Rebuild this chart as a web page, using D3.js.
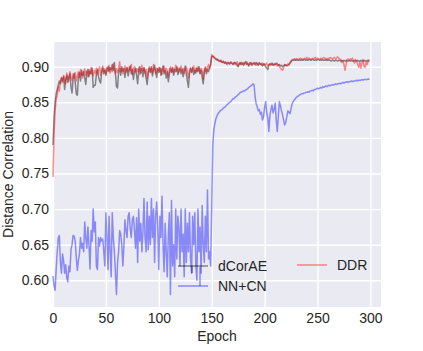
<!DOCTYPE html>
<html>
<head>
<meta charset="utf-8">
<script src="https://cdn.jsdelivr.net/npm/d3@7"></script>
<style>
  body { margin: 0; background: #fff; }
  text { font-family: "Liberation Sans", Arial, sans-serif; fill: #262626; }
</style>
</head>
<body>
<div id="chart"></div>
<script>
// Size of the picture
var width = 423;
var height = 351;

// x ticks and y ticks
var xTicks = [0, 50, 100, 150, 200, 250, 300];
var yTicks = [0.60, 0.65, 0.70, 0.75, 0.80, 0.85, 0.90];

// dCorAE (black)
var dcorae = [
  0.790, 0.830, 0.850, 0.862, 0.868, 0.874, 0.880, 0.876, 0.884, 0.880,
  0.886, 0.868, 0.882, 0.888, 0.878, 0.886, 0.890, 0.872, 0.863, 0.884,
  0.890, 0.878, 0.862, 0.860, 0.885, 0.892, 0.880, 0.895, 0.888, 0.893,
  0.884, 0.875, 0.892, 0.896, 0.886, 0.894, 0.890, 0.898, 0.871, 0.874,
  0.874, 0.890, 0.896, 0.886, 0.880, 0.877, 0.892, 0.898, 0.890, 0.895,
  0.888, 0.896, 0.900, 0.893, 0.899, 0.896, 0.903, 0.895, 0.906, 0.890,
  0.872, 0.870, 0.893, 0.898, 0.888, 0.900, 0.894, 0.897, 0.885, 0.896,
  0.899, 0.887, 0.895, 0.901, 0.890, 0.896, 0.882, 0.893, 0.898, 0.888,
  0.876, 0.894, 0.900, 0.891, 0.897, 0.886, 0.899, 0.893, 0.884, 0.875,
  0.890, 0.898, 0.892, 0.900, 0.887, 0.896, 0.902, 0.893, 0.885, 0.897,
  0.892, 0.899, 0.888, 0.896, 0.901, 0.890, 0.895, 0.884, 0.893, 0.879,
  0.890, 0.897, 0.892, 0.899, 0.888, 0.896, 0.893, 0.900, 0.889, 0.895,
  0.898, 0.890, 0.896, 0.886, 0.894, 0.901, 0.890, 0.880, 0.871, 0.890,
  0.897, 0.892, 0.899, 0.889, 0.895, 0.891, 0.898, 0.893, 0.900, 0.890,
  0.895, 0.885, 0.876, 0.893, 0.898, 0.890, 0.896, 0.893, 0.899, 0.902,
  0.914, 0.915, 0.913, 0.912, 0.910, 0.911, 0.909, 0.908, 0.909, 0.907,
  0.906, 0.907, 0.905, 0.906, 0.904, 0.906, 0.905, 0.904, 0.906, 0.905,
  0.903, 0.905, 0.906, 0.904, 0.902, 0.900, 0.904, 0.906, 0.903, 0.905,
  0.902, 0.905, 0.907, 0.903, 0.905, 0.901, 0.904, 0.906, 0.902, 0.904,
  0.905, 0.903, 0.906, 0.904, 0.902, 0.905, 0.903, 0.904, 0.901, 0.904,
  0.903, 0.900, 0.898, 0.896, 0.902, 0.904, 0.903, 0.905, 0.902, 0.904,
  0.903, 0.905, 0.904, 0.902, 0.903, 0.901, 0.902, 0.900, 0.901, 0.903,
  0.902, 0.901, 0.902, 0.903, 0.905, 0.907, 0.909, 0.909, 0.910, 0.909,
  0.910, 0.909, 0.909, 0.910, 0.909, 0.910, 0.909, 0.910, 0.910, 0.909,
  0.910, 0.909, 0.910, 0.910, 0.909, 0.910, 0.910, 0.909, 0.910, 0.909,
  0.910, 0.910, 0.909, 0.910, 0.909, 0.910, 0.909, 0.909, 0.910, 0.909,
  0.910, 0.909, 0.909, 0.908, 0.909, 0.909, 0.908, 0.909, 0.909, 0.908,
  0.909, 0.909, 0.908, 0.909, 0.908, 0.909, 0.908, 0.909, 0.908, 0.908,
  0.909, 0.908, 0.909, 0.908, 0.908, 0.909, 0.908, 0.908, 0.909, 0.908,
  0.908, 0.909, 0.908, 0.908, 0.909, 0.908, 0.908, 0.909, 0.908, 0.909
];

// NN+CN (blue)
var nncn = [
  0.606, 0.592, 0.586, 0.615, 0.640, 0.660, 0.663, 0.625, 0.610, 0.637,
  0.628, 0.610, 0.622, 0.604, 0.598, 0.620, 0.612, 0.643, 0.650, 0.663,
  0.662, 0.655, 0.632, 0.614, 0.628, 0.637, 0.660, 0.645, 0.652, 0.640,
  0.682, 0.660, 0.645, 0.675, 0.650, 0.616, 0.670, 0.655, 0.700, 0.668,
  0.682, 0.620, 0.615, 0.660, 0.648, 0.660, 0.655, 0.658, 0.640, 0.620,
  0.695, 0.660, 0.615, 0.690, 0.640, 0.605, 0.695, 0.660, 0.640, 0.610,
  0.580, 0.625, 0.640, 0.670, 0.665, 0.650, 0.620, 0.648, 0.685, 0.670,
  0.660, 0.690, 0.695, 0.672, 0.660, 0.685, 0.690, 0.670, 0.645, 0.688,
  0.625, 0.700, 0.655, 0.680, 0.640, 0.668, 0.715, 0.660, 0.640, 0.710,
  0.643, 0.690, 0.650, 0.715, 0.660, 0.700, 0.625, 0.690, 0.710, 0.675,
  0.615, 0.690, 0.660, 0.718, 0.650, 0.612, 0.680, 0.640, 0.605, 0.665,
  0.695, 0.580, 0.712, 0.620, 0.650, 0.605, 0.700, 0.630, 0.690, 0.675,
  0.620, 0.700, 0.640, 0.665, 0.605, 0.700, 0.625, 0.680, 0.640, 0.695,
  0.630, 0.610, 0.690, 0.650, 0.695, 0.620, 0.600, 0.700, 0.640, 0.675,
  0.610, 0.705, 0.650, 0.625, 0.690, 0.640, 0.727, 0.630, 0.640, 0.620,
  0.700, 0.790, 0.812, 0.820, 0.827, 0.831, 0.834, 0.836, 0.838, 0.839,
  0.840, 0.842, 0.843, 0.844, 0.846, 0.847, 0.849, 0.850, 0.851, 0.853,
  0.855, 0.855, 0.857, 0.858, 0.859, 0.861, 0.862, 0.864, 0.864, 0.865,
  0.866, 0.866, 0.867, 0.868, 0.869, 0.871, 0.872, 0.873, 0.874, 0.876,
  0.875, 0.858, 0.848, 0.844, 0.838, 0.840, 0.833, 0.836, 0.825, 0.830,
  0.843, 0.851, 0.835, 0.828, 0.809, 0.832, 0.840, 0.846, 0.835, 0.840,
  0.849, 0.825, 0.809, 0.832, 0.851, 0.845, 0.838, 0.832, 0.825, 0.818,
  0.822, 0.830, 0.838, 0.836, 0.834, 0.841, 0.848, 0.851, 0.853, 0.855,
  0.857, 0.858, 0.859, 0.860, 0.861, 0.862, 0.862, 0.863, 0.863, 0.864,
  0.864, 0.865, 0.864, 0.866, 0.866, 0.867, 0.866, 0.868, 0.868, 0.869,
  0.870, 0.869, 0.870, 0.871, 0.870, 0.872, 0.871, 0.872, 0.873, 0.872,
  0.873, 0.874, 0.873, 0.874, 0.875, 0.874, 0.875, 0.876, 0.875, 0.876,
  0.876, 0.877, 0.876, 0.877, 0.878, 0.877, 0.878, 0.878, 0.879, 0.878,
  0.879, 0.879, 0.880, 0.879, 0.880, 0.880, 0.880, 0.881, 0.880, 0.881,
  0.881, 0.881, 0.882, 0.881, 0.882, 0.882, 0.882, 0.882, 0.883, 0.882
];

// DDR (red)
var ddr = [
  0.745, 0.805, 0.838, 0.855, 0.860, 0.872, 0.866, 0.880, 0.885, 0.878,
  0.888, 0.882, 0.876, 0.891, 0.884, 0.880, 0.893, 0.886, 0.881, 0.890,
  0.884, 0.892, 0.880, 0.887, 0.893, 0.885, 0.896, 0.889, 0.884, 0.893,
  0.897, 0.888, 0.894, 0.886, 0.896, 0.890, 0.899, 0.892, 0.887, 0.895,
  0.891, 0.898, 0.889, 0.895, 0.900, 0.888, 0.896, 0.901, 0.893, 0.897,
  0.890, 0.899, 0.894, 0.902, 0.891, 0.897, 0.893, 0.904, 0.896, 0.890,
  0.897, 0.892, 0.899, 0.907, 0.893, 0.898, 0.890, 0.896, 0.901, 0.892,
  0.898, 0.893, 0.900, 0.895, 0.903, 0.889, 0.896, 0.900, 0.892, 0.897,
  0.893, 0.899, 0.889, 0.896, 0.902, 0.894, 0.898, 0.890, 0.896, 0.884,
  0.895, 0.900, 0.893, 0.898, 0.891, 0.903, 0.896, 0.890, 0.898, 0.894,
  0.899, 0.893, 0.897, 0.889, 0.896, 0.901, 0.892, 0.898, 0.894, 0.887,
  0.896, 0.900, 0.893, 0.898, 0.891, 0.897, 0.902, 0.894, 0.899, 0.892,
  0.896, 0.901, 0.893, 0.898, 0.890, 0.896, 0.900, 0.893, 0.884, 0.895,
  0.899, 0.893, 0.897, 0.901, 0.892, 0.898, 0.894, 0.900, 0.896, 0.891,
  0.898, 0.894, 0.882, 0.896, 0.900, 0.893, 0.899, 0.903, 0.897, 0.904,
  0.917, 0.915, 0.914, 0.912, 0.911, 0.909, 0.910, 0.908, 0.907, 0.909,
  0.906, 0.908, 0.905, 0.907, 0.905, 0.903, 0.906, 0.904, 0.907, 0.905,
  0.904, 0.906, 0.903, 0.905, 0.907, 0.901, 0.905, 0.903, 0.906, 0.904,
  0.906, 0.903, 0.905, 0.907, 0.904, 0.902, 0.906, 0.903, 0.905, 0.904,
  0.906, 0.904, 0.902, 0.905, 0.903, 0.906, 0.904, 0.903, 0.905, 0.902,
  0.904, 0.903, 0.905, 0.901, 0.903, 0.904, 0.902, 0.904, 0.903, 0.902,
  0.904, 0.903, 0.901, 0.903, 0.900, 0.898, 0.896, 0.895, 0.899, 0.902,
  0.903, 0.902, 0.904, 0.903, 0.906, 0.908, 0.910, 0.910, 0.911, 0.910,
  0.911, 0.911, 0.910, 0.911, 0.912, 0.911, 0.910, 0.911, 0.912, 0.911,
  0.913, 0.911, 0.912, 0.911, 0.910, 0.912, 0.911, 0.912, 0.913, 0.911,
  0.912, 0.911, 0.910, 0.912, 0.911, 0.912, 0.913, 0.911, 0.912, 0.910,
  0.912, 0.911, 0.913, 0.912, 0.911, 0.912, 0.913, 0.911, 0.912, 0.914,
  0.912, 0.911, 0.910, 0.906, 0.908, 0.903, 0.895, 0.904, 0.910, 0.911,
  0.909, 0.911, 0.910, 0.912, 0.908, 0.905, 0.910, 0.908, 0.903, 0.899,
  0.907, 0.898, 0.905, 0.910, 0.900, 0.899, 0.907, 0.903, 0.909, 0.910
];

var series = [
  { name: "dCorAE", values: dcorae, color: "#000000", opacity: 0.45 },
  { name: "NN+CN", values: nncn, color: "#0000ff", opacity: 0.42 },
  { name: "DDR", values: ddr, color: "#ff0000", opacity: 0.45 }
];

// plot box
var margin = { top: 42, right: 42, bottom: 44, left: 53 };
var plotW = width - margin.left - margin.right;
var plotH = height - margin.top - margin.bottom;

var x = d3.scaleLinear().domain([0, 310]).range([margin.left, margin.left + plotW]);
var y = d3.scaleLinear().domain([0.5625, 0.9347]).range([margin.top + plotH, margin.top]);

var svg = d3.select("#chart")
  .append("svg")
  .attr("width", width)
  .attr("height", height);

// background
svg.append("rect")
  .attr("x", margin.left)
  .attr("y", margin.top)
  .attr("width", plotW)
  .attr("height", plotH)
  .attr("fill", "#eaeaf2");

// grid
svg.append("g")
  .attr("transform", "translate(0," + (margin.top + plotH) + ")")
  .call(d3.axisBottom(x).tickValues(xTicks).tickSize(-plotH).tickFormat(""))
  .call(g => g.select(".domain").remove())
  .call(g => g.selectAll("line").attr("stroke", "#fff").attr("stroke-width", 1.4));

svg.append("g")
  .attr("transform", "translate(" + margin.left + ",0)")
  .call(d3.axisLeft(y).tickValues(yTicks).tickSize(-plotW).tickFormat(""))
  .call(g => g.select(".domain").remove())
  .call(g => g.selectAll("line").attr("stroke", "#fff").attr("stroke-width", 1.4));

// tick labels
svg.append("g")
  .attr("transform", "translate(0," + (margin.top + plotH) + ")")
  .call(d3.axisBottom(x).tickValues(xTicks).tickSize(0).tickPadding(6))
  .call(g => g.select(".domain").remove())
  .call(g => g.selectAll("text").attr("font-size", 14).attr("font-family", null));

svg.append("g")
  .attr("transform", "translate(" + margin.left + ",0)")
  .call(d3.axisLeft(y).tickValues(yTicks).tickSize(0).tickPadding(4).tickFormat(d3.format(".2f")))
  .call(g => g.select(".domain").remove())
  .call(g => g.selectAll("text").attr("font-size", 14).attr("font-family", null));

// lines
var line = d3.line()
  .x(function(d, i) { return x(i); })
  .y(function(d) { return y(d); });

var plot = svg.append("g");
plot.selectAll("path")
  .data(series)
  .enter()
  .append("path")
  .attr("d", function(d) { return line(d.values); })
  .attr("fill", "none")
  .attr("stroke", function(d) { return d.color; })
  .attr("stroke-opacity", function(d) { return d.opacity; })
  .attr("stroke-width", 1.5)
  .attr("stroke-linejoin", "round");

// legend (no frame)
var legend = svg.append("g");
var legendPos = [
  { s: series[0], x: 178, y: 266 },
  { s: series[1], x: 178, y: 286 },
  { s: series[2], x: 297, y: 265 }
];
legendPos.forEach(function(p) {
  legend.append("line")
    .attr("x1", p.x).attr("x2", p.x + 30)
    .attr("y1", p.y).attr("y2", p.y)
    .attr("stroke", p.s.color)
    .attr("stroke-opacity", p.s.opacity)
    .attr("stroke-width", 1.5);
  legend.append("text")
    .attr("x", p.x + 40)
    .attr("y", p.y + 5)
    .attr("font-size", 14)
    .text(p.s.name);
});
// error bar marks in the handles
legend.append("line")
  .attr("x1", 192).attr("x2", 192).attr("y1", 266).attr("y2", 273)
  .attr("stroke", "#000").attr("stroke-opacity", 0.45).attr("stroke-width", 1.5);
legend.append("line")
  .attr("x1", 200).attr("x2", 200).attr("y1", 267).attr("y2", 286)
  .attr("stroke", "#0000ff").attr("stroke-opacity", 0.42).attr("stroke-width", 1.5);

// axis titles
svg.append("text")
  .attr("x", margin.left + plotW / 2)
  .attr("y", 341)
  .attr("text-anchor", "middle")
  .attr("font-size", 14)
  .text("Epoch");

svg.append("text")
  .attr("transform", "translate(13," + (margin.top + plotH / 2) + ") rotate(-90)")
  .attr("text-anchor", "middle")
  .attr("font-size", 14)
  .text("Distance Correlation");
</script>
</body>
</html>
